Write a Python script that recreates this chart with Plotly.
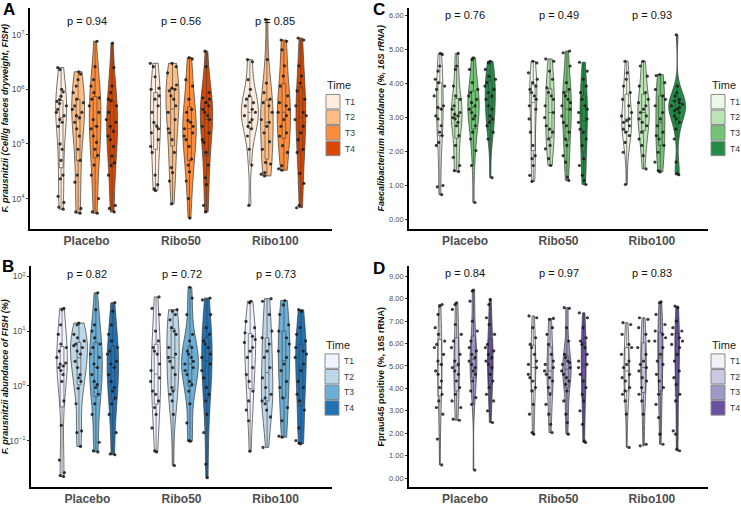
import math
import plotly.graph_objects as go

W, H = 741, 506
groups = ["Placebo", "Ribo50", "Ribo100"]
times = ["T1", "T2", "T3", "T4"]

# ---------------- Panel A: F. prausnitzii (Cell/g faeces dryweight, FISH) ----------------
A_placebo_T1 = [2.5e6, 2.3e6, 1.0e6, 9e5, 7.5e5, 6.5e5, 6e5, 5.5e5, 5e5, 4.3e5, 3.8e5, 3.3e5, 2.8e5, 2.5e5, 2.1e5, 1.0e5, 8e4, 5e4, 2.7e4, 2.3e4, 1.1e4, 8.5e3, 7e3, 6.4e3]
A_placebo_T2 = [2.1e6, 1.9e6, 1.5e6, 1.15e6, 8.7e5, 6.6e5, 5.7e5, 5e5, 4.3e5, 3.8e5, 3.3e5, 3e5, 2.5e5, 1.9e5, 1.4e5, 8e4, 5e4, 2.7e4, 2e4, 6.6e3, 5.7e3, 5.4e3]
A_placebo_T3 = [7.6e6, 2.6e6, 1.5e6, 1.15e6, 8.7e5, 7e5, 6.6e5, 5e5, 3.8e5, 2.8e5, 2.1e5, 1.9e5, 1.4e5, 1.07e5, 8e4, 6.2e4, 4.1e4, 2.7e4, 1e4, 5.7e3, 5.4e3]
A_placebo_T4 = [7e6, 2.5e6, 1.15e6, 8.7e5, 6.6e5, 6.2e5, 5e5, 3.8e5, 2.8e5, 2.5e5, 2.1e5, 1.7e5, 1.4e5, 1.2e5, 9e4, 6e4, 4.5e4, 4e4, 2.7e4, 7.5e3, 6.6e3, 5.7e3]
A_ribo50_T1 = [3e6, 2.6e6, 1.7e6, 1.05e6, 1e6, 7.6e5, 6.6e5, 5e5, 3.8e5, 2.5e5, 2.1e5, 1.9e5, 1.6e5, 1.2e5, 9e4, 7e4, 2.7e4, 1.8e4, 1.5e4, 1.4e4]
A_ribo50_T2 = [3e6, 2.6e6, 2e6, 1.2e6, 1.05e6, 1e6, 9.4e5, 7.6e5, 6.6e5, 5e5, 3.8e5, 2.8e5, 1.9e5, 1.6e5, 1.2e5, 7e4, 3.7e4, 3e4, 2.1e4, 8e3]
A_ribo50_T3 = [3.8e6, 3.6e6, 1.5e6, 1.15e6, 6.6e5, 4.3e5, 3.8e5, 2.7e5, 2.5e5, 2.1e5, 1.9e5, 1.6e5, 1.4e5, 1.2e5, 9e4, 5.3e4, 4.1e4, 3.1e4, 2.1e4, 1e4, 4.4e3]
A_ribo50_T4 = [5e6, 2.6e6, 8.7e5, 7e5, 6.6e5, 5.7e5, 5e5, 4.3e5, 3.8e5, 3.3e5, 2.8e5, 2.1e5, 1.6e5, 1.2e5, 1.07e5, 7e4, 4.1e4, 2.4e4, 1.8e4, 7.5e3, 5.7e3]
A_ribo100_T1 = [3.5e6, 3.2e6, 1.5e6, 1e6, 7.6e5, 6.6e5, 5.7e5, 5e5, 4.3e5, 3.8e5, 3.3e5, 2.8e5, 2.5e5, 2.1e5, 1.9e5, 1.4e5, 8e4, 4.1e4, 7.5e3]
A_ribo100_T2 = [1.9e7, 3.5e6, 1.3e6, 8.7e5, 6.6e5, 5.7e5, 5e5, 3.8e5, 2.8e5, 2.5e5, 2.1e5, 1.6e5, 1.1e5, 8e4, 4.6e4, 4.3e4, 3e4, 2.8e4, 2.6e4]
A_ribo100_T3 = [8e6, 7.6e6, 5.3e6, 2.7e6, 1.75e6, 1.15e6, 7.6e5, 5.7e5, 5e5, 4.3e5, 3.8e5, 3.3e5, 2.8e5, 2.1e5, 1.6e5, 1.4e5, 9.3e4, 7e4, 4e4, 3.5e4, 3.3e4]
A_ribo100_T4 = [8.7e6, 8e6, 2.7e6, 1.75e6, 1.3e6, 9.4e5, 6.6e5, 5e5, 3.8e5, 3.3e5, 2.8e5, 2.1e5, 1.6e5, 1.2e5, 8e4, 7e4, 2.9e4, 1.9e4, 7.5e3, 6.8e3]

# ---------------- Panel B: F. prausnitzii abundance of FISH (%) ----------------
B_placebo_T1 = [26, 24.5, 13, 8.7, 5.8, 5, 4.3, 3.3, 2.6, 2.5, 2.3, 2.15, 1.9, 1.6, 1.2, 0.53, 0.19, 0.044, 0.026, 0.023, 0.022]
B_placebo_T2 = [14, 13, 8.7, 7.5, 6.6, 5.8, 5.4, 5, 4.3, 3.8, 2.8, 2.15, 1.6, 1.4, 1.2, 0.9, 0.47, 0.15, 0.14, 0.078]
B_placebo_T3 = [50, 24.5, 13, 10, 7.5, 5.8, 5, 3.8, 3.3, 2.5, 2.15, 1.6, 1.2, 1.05, 0.93, 0.7, 0.47, 0.3, 0.093, 0.065, 0.062]
B_placebo_T4 = [33, 23, 13, 8.7, 6.6, 5, 4.3, 3.8, 2.8, 2.5, 2.15, 1.6, 1.2, 0.93, 0.8, 0.6, 0.47, 0.3, 0.14, 0.057, 0.055]
B_ribo50_T1 = [42, 26, 20, 10, 6.6, 5, 4.3, 3.8, 2.5, 1.9, 1.4, 1.2, 0.8, 0.7, 0.53, 0.4, 0.3, 0.17, 0.065, 0.062]
B_ribo50_T2 = [24.5, 23, 20, 16, 11.5, 10, 8.7, 5, 3.8, 3.3, 2.8, 2.15, 1.6, 0.93, 0.8, 0.7, 0.53, 0.3, 0.035]
B_ribo50_T3 = [63, 40, 20, 8.7, 6.6, 5, 4.3, 3.8, 3.3, 2.8, 2.5, 2.15, 1.9, 1.6, 1.2, 1.05, 0.8, 0.47, 0.21, 0.1, 0.097]
B_ribo50_T4 = [40, 37, 20, 11.5, 8.7, 6.6, 5.8, 5, 3.8, 3.3, 2.5, 1.9, 1.4, 0.93, 0.7, 0.53, 0.3, 0.14, 0.037, 0.021]
B_ribo100_T1 = [35, 33, 15, 11.5, 9.3, 8, 7, 6.2, 5, 4.3, 3.3, 2.15, 1.6, 1.2, 0.8, 0.53, 0.36, 0.23, 0.064]
B_ribo100_T2 = [39, 35, 20, 10, 7.5, 5.8, 4.3, 3.3, 2.15, 1.4, 0.93, 0.7, 0.6, 0.53, 0.47, 0.36, 0.27, 0.075]
B_ribo100_T3 = [36, 30, 20, 13, 10, 7.5, 5.8, 4.3, 3.3, 2.5, 1.9, 1.2, 0.93, 0.6, 0.4, 0.23, 0.12, 0.115]
B_ribo100_T4 = [24.5, 23, 11.5, 8.7, 6.6, 5, 4.3, 3.8, 3.3, 2.5, 1.9, 1.2, 0.93, 0.7, 0.53, 0.36, 0.17, 0.1, 0.09, 0.087]

# ---------------- Panel C: Faecalibacterium abundance (%, 16S rRNA) ----------------
C_placebo_T1 = [4.89, 4.86, 4.52, 4.37, 4.13, 4.03, 3.93, 3.83, 3.64, 3.35, 3.30, 3.25, 3.05, 2.96, 2.76, 2.57, 2.47, 2.27, 2.18, 1.0, 0.96, 0.73]
C_placebo_T2 = [4.89, 4.52, 4.42, 3.93, 3.64, 3.54, 3.35, 3.25, 3.15, 3.10, 3.05, 3.0, 2.96, 2.86, 2.76, 2.47, 2.18, 1.83, 1.59, 1.44, 1.41]
C_placebo_T3 = [4.76, 4.71, 4.42, 4.03, 3.83, 3.74, 3.64, 3.54, 3.44, 3.35, 3.25, 3.15, 3.05, 2.96, 2.76, 2.57, 2.37, 2.03, 1.59, 0.5]
C_placebo_T4 = [4.66, 4.61, 4.42, 4.22, 4.13, 4.03, 3.93, 3.83, 3.74, 3.64, 3.54, 3.35, 3.25, 3.05, 2.96, 2.86, 2.76, 2.57, 2.37, 1.23]
C_ribo50_T1 = [4.66, 4.61, 4.32, 4.13, 4.03, 3.93, 3.83, 3.74, 3.64, 3.54, 3.35, 3.25, 2.96, 2.57, 2.18, 1.88, 1.79, 1.59, 1.30, 1.12]
C_ribo50_T2 = [4.73, 4.66, 4.37, 4.13, 3.88, 3.74, 3.64, 3.54, 3.35, 3.15, 3.0, 2.76, 2.66, 2.57, 2.37, 2.18, 2.08, 1.79, 1.59]
C_ribo50_T3 = [4.96, 4.91, 4.52, 4.03, 3.83, 3.74, 3.64, 3.54, 3.44, 3.35, 3.25, 3.05, 2.86, 2.76, 2.57, 2.37, 2.18, 1.88, 1.69, 1.25, 1.15]
C_ribo50_T4 = [4.63, 4.37, 4.13, 3.93, 3.74, 3.54, 3.35, 3.25, 3.15, 2.96, 2.86, 2.66, 2.57, 2.37, 2.18, 1.79, 1.59, 1.30, 1.15, 1.03]
C_ribo100_T1 = [4.66, 4.32, 4.13, 3.93, 3.74, 3.54, 3.35, 3.15, 3.05, 2.96, 2.91, 2.86, 2.76, 2.66, 2.57, 2.47, 2.27, 1.98, 1.03]
C_ribo100_T2 = [4.66, 4.52, 4.22, 3.93, 3.74, 3.54, 3.44, 3.35, 3.25, 3.15, 3.05, 2.96, 2.86, 2.76, 2.57, 2.37, 2.18, 1.88, 1.49]
C_ribo100_T3 = [4.27, 4.24, 4.03, 3.83, 3.64, 3.54, 3.35, 3.15, 2.96, 2.76, 2.57, 2.47, 2.37, 2.18, 1.98, 1.69, 1.44, 1.40]
C_ribo100_T4 = [5.44, 3.93, 3.74, 3.64, 3.54, 3.49, 3.44, 3.39, 3.35, 3.30, 3.25, 3.20, 3.15, 3.05, 2.96, 2.86, 2.66, 2.37, 1.69, 1.35, 1.32]

# ---------------- Panel D: Fprau645 positive (%, 16S rRNA) ----------------
D_placebo_T1 = [7.74, 7.67, 7.30, 6.71, 6.41, 6.11, 5.96, 5.82, 5.52, 5.22, 5.07, 4.78, 4.63, 4.33, 4.04, 3.74, 3.44, 3.15, 2.85, 1.74, 0.59]
D_placebo_T2 = [7.82, 7.74, 7.52, 6.85, 6.41, 6.11, 5.82, 5.52, 5.22, 5.07, 4.93, 4.78, 4.63, 4.33, 4.04, 3.74, 3.44, 3.15, 2.63, 2.58]
D_placebo_T3 = [8.38, 8.34, 7.89, 7.0, 6.56, 6.11, 5.82, 5.67, 5.52, 5.37, 5.22, 5.07, 4.93, 4.78, 4.63, 4.33, 3.89, 3.59, 3.29, 0.36]
D_placebo_T4 = [7.97, 7.74, 7.15, 6.85, 6.41, 5.96, 5.82, 5.67, 5.52, 5.37, 5.22, 5.07, 4.93, 4.63, 4.33, 4.04, 3.74, 3.44, 3.0, 2.48]
D_ribo50_T1 = [7.23, 7.15, 6.71, 6.26, 5.96, 5.82, 5.52, 5.22, 5.07, 4.93, 4.63, 4.48, 4.33, 4.04, 3.89, 3.29, 2.85, 2.03, 1.96]
D_ribo50_T2 = [7.12, 7.08, 6.71, 6.41, 5.96, 5.52, 5.22, 5.07, 4.93, 4.78, 4.63, 4.48, 4.33, 4.04, 3.74, 3.29, 2.85, 2.40, 2.03]
D_ribo50_T3 = [7.6, 7.57, 6.71, 6.11, 5.52, 5.37, 5.22, 5.15, 5.07, 4.93, 4.78, 4.63, 4.48, 4.33, 4.18, 3.89, 3.44, 2.85, 2.48, 1.96]
D_ribo50_T4 = [7.37, 7.15, 6.71, 6.26, 6.11, 5.96, 5.82, 5.52, 5.22, 5.07, 4.93, 4.63, 4.33, 4.04, 3.74, 3.44, 3.0, 2.40, 1.66, 1.59]
D_ribo100_T1 = [6.93, 6.85, 6.41, 5.96, 5.82, 5.52, 5.22, 5.07, 4.93, 4.63, 4.48, 4.33, 4.04, 3.89, 3.74, 3.44, 2.85, 1.37]
D_ribo100_T2 = [7.15, 7.08, 6.71, 6.41, 6.11, 5.82, 5.52, 5.22, 5.07, 4.93, 4.78, 4.48, 4.33, 4.04, 3.74, 3.44, 2.85, 1.51, 1.44]
D_ribo100_T3 = [7.86, 7.82, 7.30, 6.85, 6.56, 6.41, 6.26, 6.11, 5.82, 5.52, 5.22, 5.07, 4.63, 4.33, 4.04, 3.74, 3.29, 2.70, 1.96, 1.51]
D_ribo100_T4 = [7.67, 7.6, 7.0, 6.71, 6.56, 6.41, 6.26, 6.11, 5.96, 5.82, 5.52, 5.22, 4.78, 4.48, 4.18, 3.74, 3.44, 2.11, 1.96, 1.29, 1.22]

p_A = ["p = 0.94", "p = 0.56", "p = 0.85"]
p_B = ["p = 0.82", "p = 0.72", "p = 0.73"]
p_C = ["p = 0.76", "p = 0.49", "p = 0.93"]
p_D = ["p = 0.84", "p = 0.97", "p = 0.83"]

# log-scale tick labels for panels A and B (decade exponents)
A_decades = [4, 5, 6, 7]
B_decades = [-1, 0, 1, 2]
C_ticks = [0, 1, 2, 3, 4, 5, 6]
D_ticks = [0, 1, 2, 3, 4, 5, 6, 7, 8, 9]

col_A = ["#FEEDDE", "#FDBE85", "#FD8D3C", "#D94701"]
col_B = ["#EFF3FF", "#BDD7E7", "#6BAED6", "#2171B5"]
col_C = ["#EDF8E9", "#BAE4B3", "#74C476", "#238B45"]
col_D = ["#F2F0F7", "#CBC9E2", "#9E9AC8", "#6A51A3"]

data_A = [[A_placebo_T1, A_ribo50_T1, A_ribo100_T1], [A_placebo_T2, A_ribo50_T2, A_ribo100_T2],
          [A_placebo_T3, A_ribo50_T3, A_ribo100_T3], [A_placebo_T4, A_ribo50_T4, A_ribo100_T4]]
data_B = [[B_placebo_T1, B_ribo50_T1, B_ribo100_T1], [B_placebo_T2, B_ribo50_T2, B_ribo100_T2],
          [B_placebo_T3, B_ribo50_T3, B_ribo100_T3], [B_placebo_T4, B_ribo50_T4, B_ribo100_T4]]
data_C = [[C_placebo_T1, C_ribo50_T1, C_ribo100_T1], [C_placebo_T2, C_ribo50_T2, C_ribo100_T2],
          [C_placebo_T3, C_ribo50_T3, C_ribo100_T3], [C_placebo_T4, C_ribo50_T4, C_ribo100_T4]]
data_D = [[D_placebo_T1, D_ribo50_T1, D_ribo100_T1], [D_placebo_T2, D_ribo50_T2, D_ribo100_T2],
          [D_placebo_T3, D_ribo50_T3, D_ribo100_T3], [D_placebo_T4, D_ribo50_T4, D_ribo100_T4]]

FONT = "Liberation Sans"
panels = [
    dict(key="A", xa="x", ya="y", data=data_A, cols=col_A, pv=p_A, log=True,
         xdom=(30, 332), ydom=(8, 230), pvy=21, leg=(325, 86, 95)),
    dict(key="C", xa="x2", ya="y2", data=data_C, cols=col_C, pv=p_C, log=False,
         xdom=(409, 708), ydom=(8, 230), pvy=15, leg=(710, 86, 95)),
    dict(key="B", xa="x3", ya="y3", data=data_B, cols=col_B, pv=p_B, log=True,
         xdom=(31, 332), ydom=(268, 490), pvy=276, leg=(324, 347, 356)),
    dict(key="D", xa="x4", ya="y4", data=data_D, cols=col_D, pv=p_D, log=False,
         xdom=(409, 708), ydom=(268, 490), pvy=275, leg=(710, 347, 356)),
]

fig = go.Figure()
for p in panels:
    for ti, t in enumerate(times):
        xs, ys = [], []
        for gi, g in enumerate(groups):
            vals = p["data"][ti][gi]
            xs += [g] * len(vals)
            ys += [math.log10(v) for v in vals] if p["log"] else vals
        fig.add_trace(go.Violin(
            x=xs, y=ys, name=t, xaxis=p["xa"], yaxis=p["ya"], showlegend=False,
            alignmentgroup=p["key"], offsetgroup=t,
            fillcolor=p["cols"][ti], line=dict(color="#3a3a3a", width=0.7),
            points="all", pointpos=0, jitter=0.7,
            marker=dict(size=3.2, color="rgba(25,25,25,0.85)"),
            spanmode="hard", scalemode="width",
            box=dict(visible=True, width=0.22, fillcolor="rgba(0,0,0,0)",
                     line=dict(color="#3a3a3a", width=0.6)),
            meanline=dict(visible=False),
        ))

def frac_x(px):
    return px / W

def frac_y(py):
    return 1 - py / H

axis_common = dict(showline=True, linecolor="black", linewidth=1.6, showgrid=False, zeroline=False)

layout = dict(width=W, height=H, margin=dict(l=0, r=0, t=0, b=0),
              paper_bgcolor="white", plot_bgcolor="white",
              violinmode="group", violingap=0.28, violingroupgap=0.0,
              font=dict(family=FONT, color="#222222"), annotations=[], shapes=[])

ytitles = {
    "A": "F. prausnitzii (Cell/g faeces dryweight, FISH)",
    "B": "F. prausnitzii abundance of FISH (%)",
    "C": "Faecalibacterium abundance (%, 16S rRNA)",
    "D": "Fprau645 positive (%, 16S rRNA)",
}

for p in panels:
    xn = "xaxis" + p["xa"][1:]
    yn = "yaxis" + p["ya"][1:]
    layout[xn] = dict(axis_common, domain=[frac_x(p["xdom"][0]), frac_x(p["xdom"][1])],
                      anchor=p["ya"], type="category", categoryorder="array", categoryarray=groups,
                      range=[-0.6, 2.6], ticks="",
                      tickfont=dict(size=12, color="#4d4d4d", weight="bold", family=FONT))
    ya = dict(axis_common, domain=[frac_y(p["ydom"][1]), frac_y(p["ydom"][0])], anchor=p["xa"],
              ticks="outside", ticklen=2, tickcolor="#333333", tickwidth=0.8, type="linear",
              tickfont=dict(size=7.5, color="#4d4d4d", family=FONT),
              title=dict(text=ytitles[p["key"]], standoff=3,
                         font=dict(size=9, weight="bold", family=FONT, color="#111111",
                                   style="normal" if p["key"] == "D" else "italic")))
    if p["key"] == "A":
        ya.update(range=[3.45, 7.49], tickvals=A_decades,
                  ticktext=["10<sup>%d</sup>" % d for d in A_decades],
                  tickfont=dict(size=8.5, color="#4d4d4d", family=FONT))
    elif p["key"] == "B":
        ya.update(range=[-1.85, 2.18], tickvals=B_decades,
                  ticktext=["10<sup>%s</sup>" % str(d).replace("-", "−") for d in B_decades],
                  tickfont=dict(size=8.5, color="#4d4d4d", family=FONT))
    elif p["key"] == "C":
        ya.update(range=[-0.27, 6.23], tickvals=C_ticks, tickformat=".2f")
    else:
        ya.update(range=[-0.4, 9.44], tickvals=D_ticks, tickformat=".2f")
    layout[yn] = ya

    # legend (drawn by hand, ggplot style)
    lx, ty, by = p["leg"]
    layout["annotations"].append(dict(x=frac_x(lx), y=frac_y(ty), xref="paper", yref="paper",
                                      text="Time", showarrow=False, xanchor="left", yanchor="middle",
                                      font=dict(size=11, color="#222222", family=FONT)))
    for ti, t in enumerate(times):
        y0 = by + ti * 15.7
        layout["shapes"].append(dict(type="rect", xref="paper", yref="paper",
                                     x0=frac_x(lx + 1), x1=frac_x(lx + 15),
                                     y0=frac_y(y0), y1=frac_y(y0 + 14.5),
                                     fillcolor=p["cols"][ti], line=dict(color="#8a8a8a", width=1)))
        layout["annotations"].append(dict(x=frac_x(lx + 18), y=frac_y(y0 + 7.3), xref="paper",
                                          yref="paper", text=t, showarrow=False,
                                          xanchor="left", yanchor="middle",
                                          font=dict(size=8.5, color="#333333", family=FONT)))

    # p-value labels
    y0, y1 = p["ydom"]
    for gi, g in enumerate(groups):
        layout["annotations"].append(dict(
            x=g, xref=p["xa"], y=(y1 - p["pvy"]) / (y1 - y0), yref=p["ya"] + " domain",
            text=p["pv"][gi], showarrow=False, font=dict(size=11, color="#111111"),
            xanchor="center", yanchor="middle"))

# panel letters
for letter, px, py in [("A", 9, 10), ("C", 379, 10), ("B", 8, 268), ("D", 379, 270)]:
    layout["annotations"].append(dict(x=frac_x(px), y=frac_y(py), xref="paper", yref="paper",
                                      text="<b>" + letter + "</b>", showarrow=False,
                                      font=dict(size=17, color="black", family=FONT),
                                      xanchor="center", yanchor="middle"))

fig.update_layout(**layout)
fig.write_html("out.html", config={"displayModeBar": False},
               post_script="document.body.style.margin='0px';")
